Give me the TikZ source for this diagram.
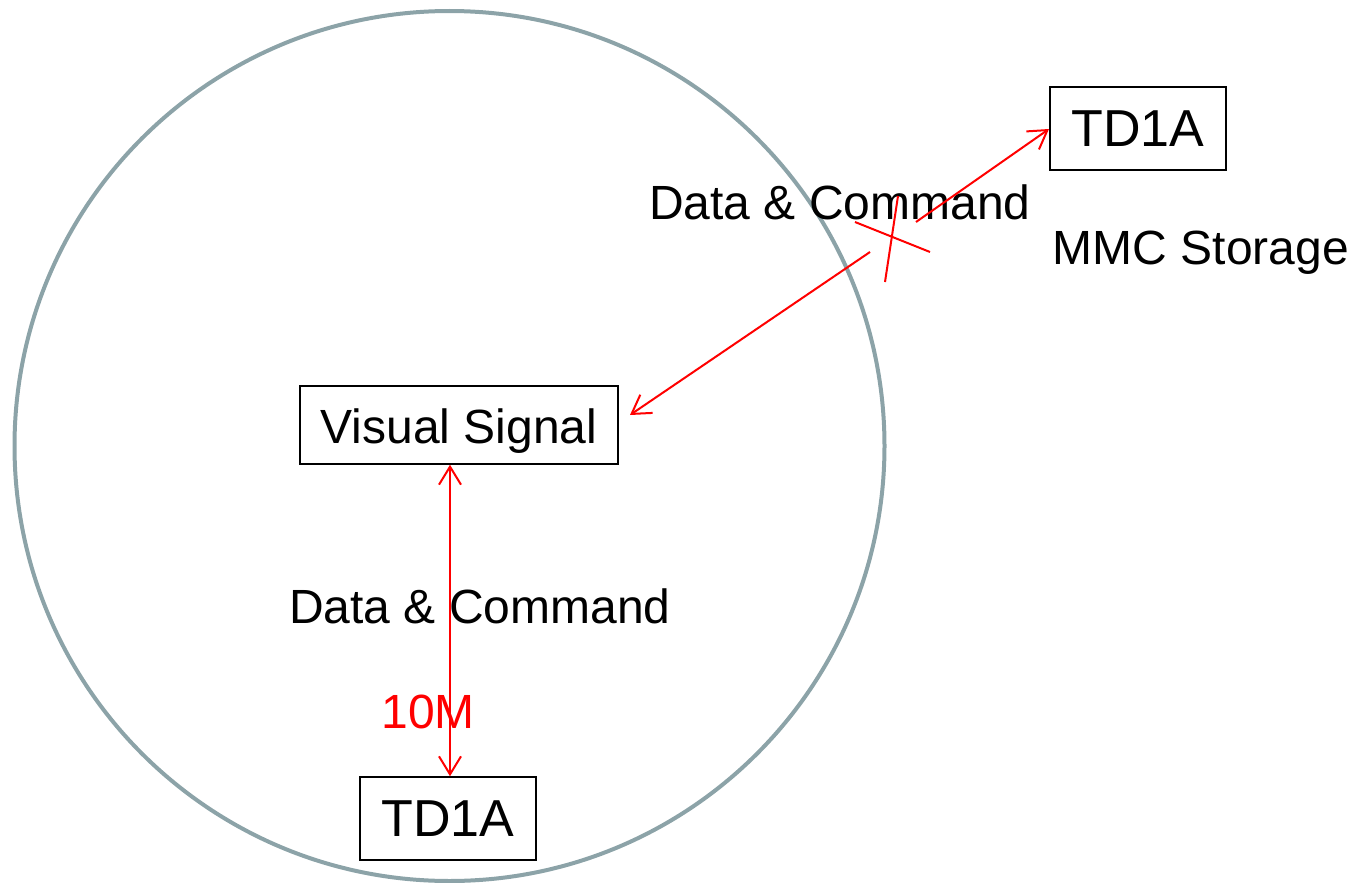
\documentclass[tikz,border=0pt]{standalone}
\usepackage{fontspec}
\setmainfont{Liberation Sans}
\usetikzlibrary{arrows.meta}
\definecolor{ringgray}{RGB}{140,163,168}
\tikzset{
  box/.style={draw=black, line width=1.5pt, inner sep=0pt},
  lbl/.style={inner sep=0pt, font=\fontsize{48}{58}\selectfont},
  link/.style={draw=red, line width=2pt},
  barb/.tip={Straight Barb[length=18pt,width=22pt,line width=2pt]},
  tip/.style={-barb},
  twotips/.style={barb-barb}
}
\begin{document}
\begin{tikzpicture}[x=1pt,y=-1pt]
\useasboundingbox (0,0) rectangle (1357,883);
% surrounding ring
\draw[ringgray, line width=4pt] (449.5,446) circle [radius=435];
% boxes
\node[box, minimum width=176pt, minimum height=83pt, font=\fontsize{52}{62}\selectfont] (top) at (1138,128.5) {TD1A};
\node[box, minimum width=318pt, minimum height=78pt, text height=36pt, text depth=-2pt, font=\fontsize{48}{58}\selectfont] (vs) at (459,425) {Visual Signal};
\node[box, minimum width=176pt, minimum height=83pt, font=\fontsize{52}{62}\selectfont] (bot) at (448,818.5) {TD1A};
% labels
\node[lbl] (dc1) at (840,202) {Data \& Command};
\node[lbl] (mmc) at (1201,253) {MMC Storage};
\node[lbl] (dc2) at (480,606) {Data \& Command};
\node[lbl, text=red] (tenm) at (428,712) {10M};
% broken diagonal link with a cross at the break
\coordinate (lowA) at (630,415);
\coordinate (lowB) at (870,252);
\coordinate (upA) at (916,222);
\coordinate (upB) at (1049,129);
\draw[link, tip] (lowB) -- (lowA);
\draw[link, tip] (upA) -- (upB);
\coordinate (x1a) at (855,222);
\coordinate (x1b) at (930,252);
\coordinate (x2a) at (898,196);
\coordinate (x2b) at (885,282);
\draw[link] (x1a) -- (x1b);
\draw[link] (x2a) -- (x2b);
% vertical link
\draw[link, twotips] (vs.south -| 450,0) -- (bot.north -| 450,0);
\end{tikzpicture}
\end{document}
